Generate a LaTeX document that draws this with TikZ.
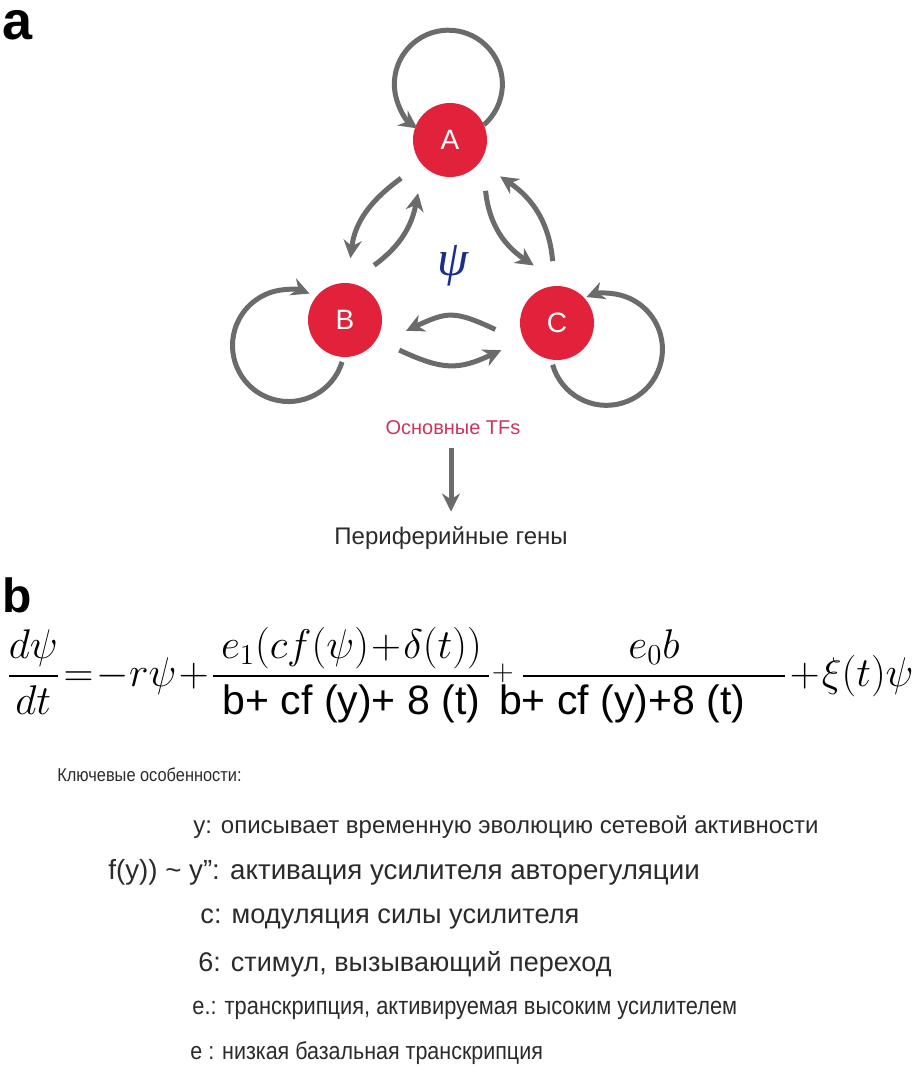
\documentclass[tikz,border=0pt]{standalone}
\usepackage{fontspec}
\setmainfont{Liberation Sans}
\newfontfamily\narrowfont[FakeStretch=0.88]{Liberation Sans}
\newfontfamily\greekserif{Liberation Serif}
\usepackage{amsmath}
\usetikzlibrary{arrows.meta}
\definecolor{tfred}{HTML}{E2213B}
\definecolor{flowgray}{HTML}{6B6B6B}
\definecolor{psiblue}{HTML}{1B2E8C}
\definecolor{tflabel}{HTML}{C8375A}
\definecolor{bodytext}{HTML}{2B2B2B}
\newcommand\denfont{\fontsize{20.5pt}{24pt}\selectfont}
\tikzset{>={Stealth[length=9pt,width=9pt]}}
\tikzset{tf/.style={circle, fill=tfred, text=white, minimum size=37pt, inner sep=0pt,
  outer sep=12.5pt, font=\fontsize{14pt}{16pt}\selectfont}}
\tikzset{flow/.style={draw=flowgray, line width=2.5pt, ->}}
\tikzset{panel/.style={anchor=base west, inner sep=0pt, font=\bfseries}}
\tikzset{keyline/.style={anchor=west, inner sep=0pt, text=bodytext}}

\begin{document}
\begin{tikzpicture}[x=0.5pt, y=0.5pt]
      \useasboundingbox (0,0) rectangle (922,-1080);

      \node [panel, font=\fontsize{27pt}{30pt}\selectfont\bfseries] (pa) at (2,-40) {a};
      \node [tf] (A) at (450,-140) {A};
      \node [tf] (B) at (345,-320) {B};
      \node [tf] (C) at (557,-323) {C};
      \node [text=psiblue, font=\greekserif\itshape\fontsize{25pt}{28pt}\selectfont] (psi) at (453,-266) {ψ};

      \draw [flow] ([shift={(24:18.5pt)}]A.center) arc [start angle=-49, end angle=235, radius=27pt];
      \draw [flow] ([shift={(266:21pt)}]B.center) arc [start angle=-17, end angle=-292, radius=28pt];
      \draw [flow] ([shift={(264:21pt)}]C.center) arc [start angle=196, end angle=471, radius=28pt];

      \draw [flow] (A.218) to [out=216, in=83] (B.85);
      \draw [flow] (B.62) to [out=36, in=259] (A.239);
      \draw [flow] (A.305) to [out=-84, in=146] (C.112);
      \draw [flow] (C.94) to [out=95, in=-34] (A.324);
      \draw [flow] (C.186) to [out=155, in=25, looseness=1.3] (B.350);
      \draw [flow] (B.331) to [out=-25, in=205, looseness=1.2] (C.206);

      \node [text=tflabel, font=\fontsize{10pt}{12pt}\selectfont] (core) at (453,-428) {Основные TFs};
      \node [text=bodytext, font=\fontsize{12pt}{14pt}\selectfont] (genes) at (451,-538) {Периферийные гены};
      \draw [flow, shorten <=3pt, shorten >=4pt] (genes.north |- core.south) -- (genes.north);

      \node [panel, font=\fontsize{24pt}{27pt}\selectfont\bfseries] (pb) at (2,-612) {b};
      \node [anchor=west, inner sep=0pt] (eq) at (6,-675) {\fontsize{21pt}{25pt}\selectfont
        \thickmuskip=1.5mu \medmuskip=1mu
        $\displaystyle \frac{d\psi}{dt}=-r\psi+\frac{e_1(cf(\psi)+\delta(t))}{\makebox[138pt]{\denfont b+ cf (y)+ 8 (t)}}\raisebox{3pt}{$\scriptstyle+$}\mkern3mu\frac{e_0b}{\makebox[131pt][l]{\hspace{-12pt}\denfont b+ cf (y)+8 (t)}}+\xi(t)\psi$};

      \node [keyline, font=\narrowfont\fontsize{9.3pt}{11pt}\selectfont] (key) at (57,-775) {Ключевые особенности:};
      \node [keyline, font=\fontsize{12pt}{14pt}\selectfont] (ydef) at (193,-827) {y: описывает временную эволюцию сетевой активности};
      \node [keyline, font=\fontsize{13.85pt}{16pt}\selectfont] (fdef) at (108,-872) {f(y)) \textasciitilde{} y": активация усилителя авторегуляции};
      \node [keyline, font=\fontsize{13.6pt}{16pt}\selectfont] (cdef) at (200,-919) {c: модуляция силы усилителя};
      \node [keyline, font=\fontsize{13.5pt}{16pt}\selectfont] (sdef) at (198,-964) {6: стимул, вызывающий переход};
      \node [keyline, font=\narrowfont\fontsize{12.4pt}{14pt}\selectfont] (eonedef) at (192,-1010) {e.: транскрипция, активируемая высоким усилителем};
      \node [keyline, font=\narrowfont\fontsize{12.2pt}{14pt}\selectfont] (ezerodef) at (190,-1053) {e : низкая базальная транскрипция};
\end{tikzpicture}
\end{document}
